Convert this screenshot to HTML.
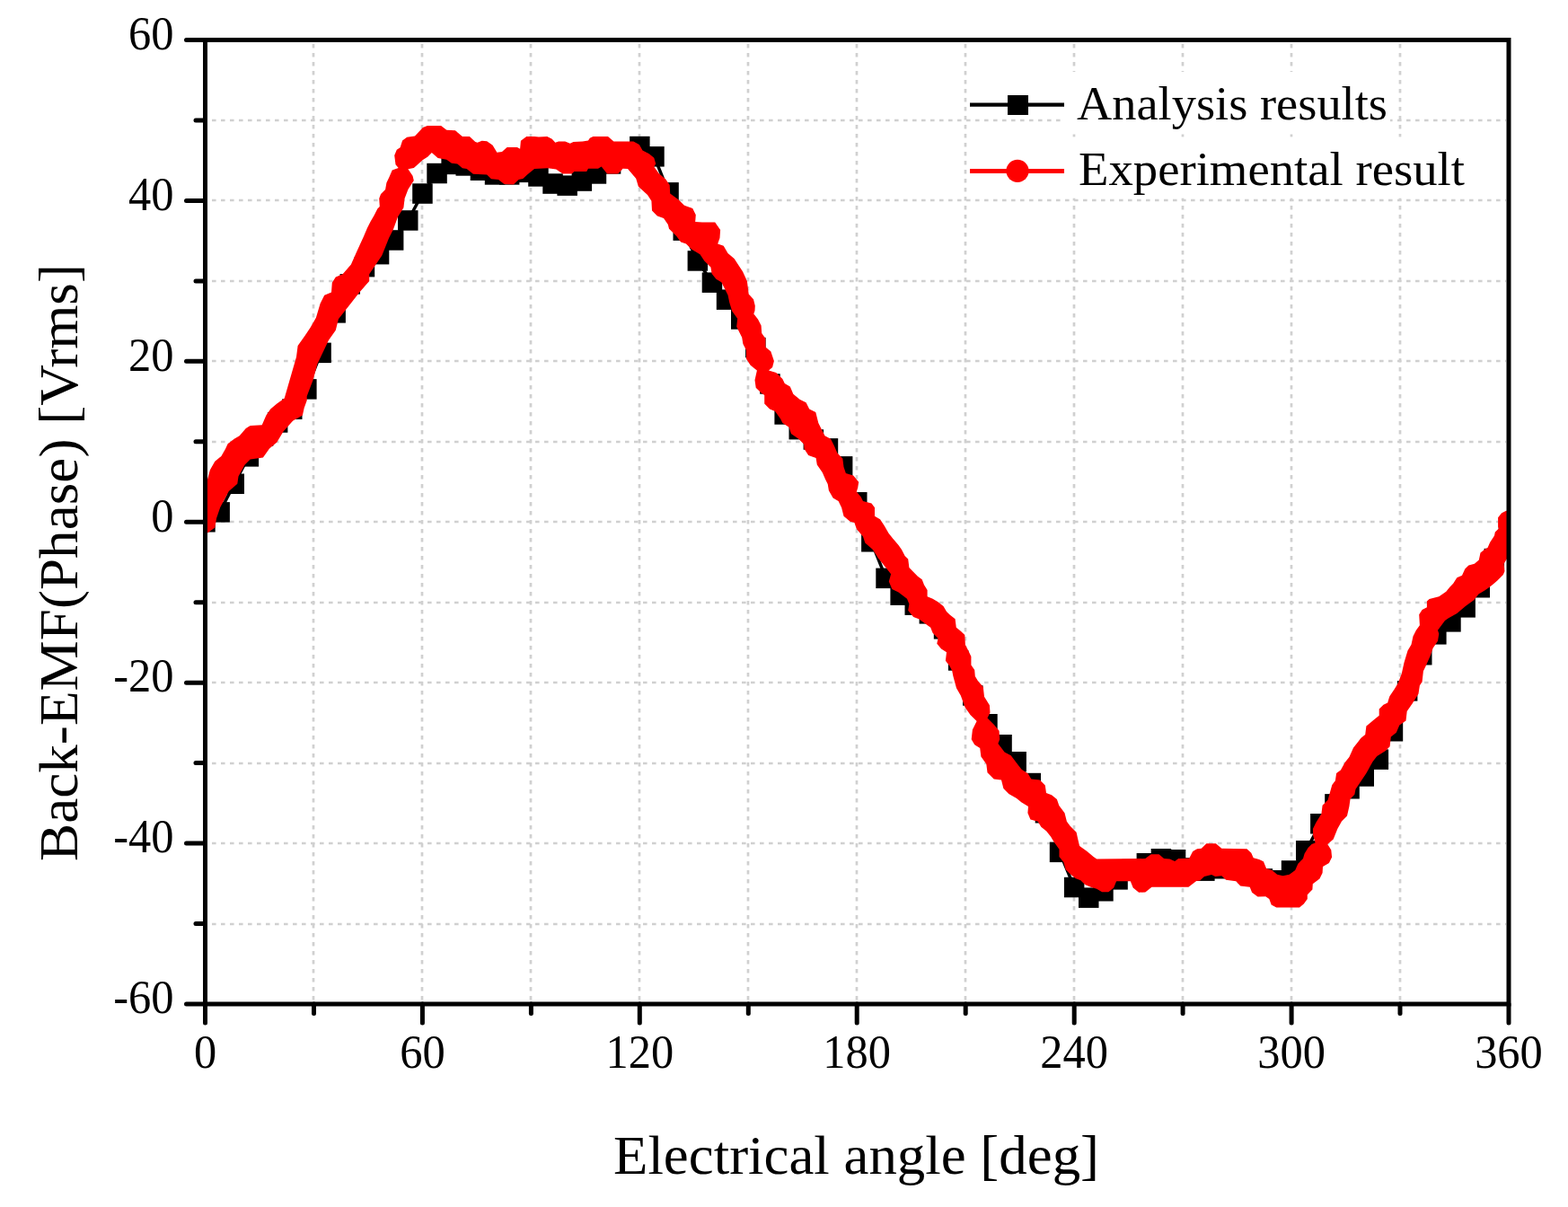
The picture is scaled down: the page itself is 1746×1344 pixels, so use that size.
<!DOCTYPE html>
<html><head><meta charset="utf-8"><title>Back-EMF chart</title><style>html,body{margin:0;padding:0;background:#fff;overflow:hidden}svg{display:block}</style></head><body>
<svg width="1746" height="1344" viewBox="0 0 1746 1344">
<rect x="0" y="0" width="1746" height="1344" fill="#fff"/>
<defs><clipPath id="pc"><rect x="228.5" y="44.5" width="1451.5" height="1073.5"/></clipPath></defs>
<g stroke="#d0d0d0" stroke-width="2.7" stroke-dasharray="4.6 5.4" fill="none"><line x1="349" y1="49" x2="349" y2="1115"/><line x1="470" y1="49" x2="470" y2="1115"/><line x1="591" y1="49" x2="591" y2="1115"/><line x1="712" y1="49" x2="712" y2="1115"/><line x1="833" y1="49" x2="833" y2="1115"/><line x1="954" y1="49" x2="954" y2="1115"/><line x1="1075" y1="49" x2="1075" y2="1115"/><line x1="1196" y1="49" x2="1196" y2="1115"/><line x1="1317" y1="49" x2="1317" y2="1115"/><line x1="1438" y1="49" x2="1438" y2="1115"/><line x1="1559" y1="49" x2="1559" y2="1115"/><line x1="236" y1="134" x2="1677" y2="134"/><line x1="236" y1="223" x2="1677" y2="223"/><line x1="236" y1="313" x2="1677" y2="313"/><line x1="236" y1="402" x2="1677" y2="402"/><line x1="236" y1="492" x2="1677" y2="492"/><line x1="236" y1="581" x2="1677" y2="581"/><line x1="236" y1="671" x2="1677" y2="671"/><line x1="236" y1="760" x2="1677" y2="760"/><line x1="236" y1="850" x2="1677" y2="850"/><line x1="236" y1="939" x2="1677" y2="939"/><line x1="236" y1="1029" x2="1677" y2="1029"/></g>
<g clip-path="url(#pc)"><polyline fill="none" stroke="#000" stroke-width="3.5" stroke-linejoin="round" points="228.5,581.3 244.6,570.4 260.8,538.8 276.9,508.3 293.0,485.5 309.1,470.5 325.3,455.6 341.4,433.3 357.5,392.8 373.6,348.3 389.8,316.3 405.9,297.2 422.0,283.2 438.2,267.5 454.3,245.5 470.4,215.6 486.5,193.0 502.7,182.9 518.8,184.5 534.9,189.8 551.1,194.5 567.2,194.5 583.3,191.8 599.4,196.5 615.6,204.6 631.7,206.7 647.8,201.6 664.0,193.4 680.1,182.4 696.2,172.0 712.3,163.1 728.5,174.3 744.6,214.3 760.7,256.6 776.8,290.5 793.0,314.6 809.1,333.6 825.2,355.5 841.4,387.0 857.5,427.5 873.6,461.5 889.7,478.2 905.9,489.5 922.0,499.4 938.1,519.4 954.2,559.2 970.4,603.3 986.5,643.9 1002.6,662.6 1018.8,673.6 1034.9,683.4 1051.0,700.4 1067.1,735.5 1083.3,774.5 1099.4,806.2 1115.5,829.2 1131.7,848.2 1147.8,872.0 1163.9,905.2 1180.0,948.9 1196.2,988.0 1212.3,999.6 1228.4,992.3 1244.5,979.4 1260.7,968.0 1276.8,961.2 1292.9,956.2 1309.1,957.3 1325.2,966.5 1341.3,969.6 1357.4,967.2 1373.6,966.0 1389.7,972.0 1405.8,978.5 1422.0,980.2 1438.1,969.5 1454.2,947.3 1470.3,917.2 1486.5,895.4 1502.6,878.3 1518.7,864.5 1534.8,845.6 1551.0,814.3 1567.1,769.4 1583.2,729.2 1599.4,706.4 1615.5,692.4 1631.6,676.4 1647.7,654.2 1663.9,622.0 1680.0,598.0"/><g fill="#000"><rect x="217.2" y="570.0" width="22.5" height="22.5"/><rect x="233.4" y="559.1" width="22.5" height="22.5"/><rect x="249.5" y="527.5" width="22.5" height="22.5"/><rect x="265.6" y="497.1" width="22.5" height="22.5"/><rect x="281.8" y="474.2" width="22.5" height="22.5"/><rect x="297.9" y="459.2" width="22.5" height="22.5"/><rect x="314.0" y="444.4" width="22.5" height="22.5"/><rect x="330.1" y="422.1" width="22.5" height="22.5"/><rect x="346.3" y="381.6" width="22.5" height="22.5"/><rect x="362.4" y="337.1" width="22.5" height="22.5"/><rect x="378.5" y="305.1" width="22.5" height="22.5"/><rect x="394.7" y="285.9" width="22.5" height="22.5"/><rect x="410.8" y="271.9" width="22.5" height="22.5"/><rect x="426.9" y="256.2" width="22.5" height="22.5"/><rect x="443.0" y="234.2" width="22.5" height="22.5"/><rect x="459.2" y="204.3" width="22.5" height="22.5"/><rect x="475.3" y="181.8" width="22.5" height="22.5"/><rect x="491.4" y="171.7" width="22.5" height="22.5"/><rect x="507.5" y="173.2" width="22.5" height="22.5"/><rect x="523.7" y="178.5" width="22.5" height="22.5"/><rect x="539.8" y="183.2" width="22.5" height="22.5"/><rect x="555.9" y="183.2" width="22.5" height="22.5"/><rect x="572.1" y="180.6" width="22.5" height="22.5"/><rect x="588.2" y="185.2" width="22.5" height="22.5"/><rect x="604.3" y="193.3" width="22.5" height="22.5"/><rect x="620.4" y="195.4" width="22.5" height="22.5"/><rect x="636.6" y="190.3" width="22.5" height="22.5"/><rect x="652.7" y="182.2" width="22.5" height="22.5"/><rect x="668.8" y="171.2" width="22.5" height="22.5"/><rect x="685.0" y="160.8" width="22.5" height="22.5"/><rect x="701.1" y="151.8" width="22.5" height="22.5"/><rect x="717.2" y="163.1" width="22.5" height="22.5"/><rect x="733.3" y="203.1" width="22.5" height="22.5"/><rect x="749.5" y="245.4" width="22.5" height="22.5"/><rect x="765.6" y="279.2" width="22.5" height="22.5"/><rect x="781.7" y="303.4" width="22.5" height="22.5"/><rect x="797.8" y="322.4" width="22.5" height="22.5"/><rect x="814.0" y="344.2" width="22.5" height="22.5"/><rect x="830.1" y="375.8" width="22.5" height="22.5"/><rect x="846.2" y="416.2" width="22.5" height="22.5"/><rect x="862.4" y="450.2" width="22.5" height="22.5"/><rect x="878.5" y="466.9" width="22.5" height="22.5"/><rect x="894.6" y="478.2" width="22.5" height="22.5"/><rect x="910.7" y="488.1" width="22.5" height="22.5"/><rect x="926.9" y="508.1" width="22.5" height="22.5"/><rect x="943.0" y="548.0" width="22.5" height="22.5"/><rect x="959.1" y="592.0" width="22.5" height="22.5"/><rect x="975.3" y="632.6" width="22.5" height="22.5"/><rect x="991.4" y="651.4" width="22.5" height="22.5"/><rect x="1007.5" y="662.4" width="22.5" height="22.5"/><rect x="1023.6" y="672.1" width="22.5" height="22.5"/><rect x="1039.8" y="689.1" width="22.5" height="22.5"/><rect x="1055.9" y="724.2" width="22.5" height="22.5"/><rect x="1072.0" y="763.2" width="22.5" height="22.5"/><rect x="1088.2" y="795.0" width="22.5" height="22.5"/><rect x="1104.3" y="818.0" width="22.5" height="22.5"/><rect x="1120.4" y="837.0" width="22.5" height="22.5"/><rect x="1136.5" y="860.8" width="22.5" height="22.5"/><rect x="1152.7" y="894.0" width="22.5" height="22.5"/><rect x="1168.8" y="937.6" width="22.5" height="22.5"/><rect x="1184.9" y="976.8" width="22.5" height="22.5"/><rect x="1201.0" y="988.4" width="22.5" height="22.5"/><rect x="1217.2" y="981.0" width="22.5" height="22.5"/><rect x="1233.3" y="968.1" width="22.5" height="22.5"/><rect x="1249.4" y="956.8" width="22.5" height="22.5"/><rect x="1265.6" y="950.0" width="22.5" height="22.5"/><rect x="1281.7" y="945.0" width="22.5" height="22.5"/><rect x="1297.8" y="946.0" width="22.5" height="22.5"/><rect x="1313.9" y="955.2" width="22.5" height="22.5"/><rect x="1330.1" y="958.4" width="22.5" height="22.5"/><rect x="1346.2" y="956.0" width="22.5" height="22.5"/><rect x="1362.3" y="954.8" width="22.5" height="22.5"/><rect x="1378.4" y="960.8" width="22.5" height="22.5"/><rect x="1394.6" y="967.2" width="22.5" height="22.5"/><rect x="1410.7" y="969.0" width="22.5" height="22.5"/><rect x="1426.8" y="958.2" width="22.5" height="22.5"/><rect x="1443.0" y="936.0" width="22.5" height="22.5"/><rect x="1459.1" y="906.0" width="22.5" height="22.5"/><rect x="1475.2" y="884.1" width="22.5" height="22.5"/><rect x="1491.3" y="867.0" width="22.5" height="22.5"/><rect x="1507.5" y="853.2" width="22.5" height="22.5"/><rect x="1523.6" y="834.4" width="22.5" height="22.5"/><rect x="1539.7" y="803.0" width="22.5" height="22.5"/><rect x="1555.9" y="758.1" width="22.5" height="22.5"/><rect x="1572.0" y="718.0" width="22.5" height="22.5"/><rect x="1588.1" y="695.1" width="22.5" height="22.5"/><rect x="1604.2" y="681.1" width="22.5" height="22.5"/><rect x="1620.4" y="665.1" width="22.5" height="22.5"/><rect x="1636.5" y="643.0" width="22.5" height="22.5"/><rect x="1652.6" y="610.8" width="22.5" height="22.5"/><rect x="1668.7" y="586.8" width="22.5" height="22.5"/></g><polygon fill="#ff0000" points="228.0,544.8 233.9,523.3 239.3,513.8 246.4,507.9 251.2,499.5 253.6,494.2 260.7,488.8 266.7,485.2 273.8,476.9 278.6,473.9 291.7,473.3 296.4,462.6 301.2,455.5 308.3,449.5 316.7,443.6 330.0,397.5 331.6,385.0 339.4,374.0 345.6,364.7 351.9,353.8 356.6,338.0 361.2,328.8 369.0,325.6 369.8,314.7 373.8,308.4 381.6,305.3 390.9,294.4 397.2,280.3 405.1,262.9 408.9,254.0 412.7,246.5 416.5,240.1 420.3,232.5 422.8,230.0 422.2,221.1 424.1,216.1 429.1,211.0 430.4,203.4 433.5,197.1 436.7,189.5 443.7,187.0 440.5,183.2 439.2,173.0 441.8,166.7 445.6,164.2 448.1,156.6 453.2,152.8 462.0,151.5 470.9,142.0 475.9,140.1 491.1,140.1 497.3,144.8 506.9,145.2 514.9,152.0 522.9,152.0 529.3,158.0 531.7,158.8 536.6,156.8 542.2,157.2 548.6,161.7 551.0,165.7 553.4,169.7 559.0,168.9 564.6,164.1 575.9,164.1 579.1,165.7 579.9,156.8 586.3,152.0 595.1,152.0 599.9,152.4 609.2,151.9 614.7,154.7 618.3,158.8 622.0,157.4 629.3,157.4 634.8,159.7 638.5,157.9 648.6,157.4 655.0,156.5 656.8,153.7 660.5,151.9 677.0,151.9 683.4,157.4 705.4,157.4 711.8,161.1 715.5,167.5 722.8,171.2 728.3,175.7 730.2,182.2 728.3,185.8 733.8,193.2 741.2,199.6 745.7,206.0 746.2,215.5 755.7,222.6 761.7,228.6 771.2,232.1 774.8,239.3 774.2,247.0 781.9,247.6 796.2,247.6 802.1,256.0 801.5,264.9 799.2,271.4 805.7,273.8 810.5,282.1 817.6,288.1 827.1,302.4 831.9,313.1 833.7,327.4 839.0,333.3 840.8,340.5 840.5,346.0 839.3,349.5 844.0,355.5 847.6,362.6 848.2,371.0 852.4,376.9 852.4,386.4 858.3,391.2 861.9,401.9 860.1,409.0 856.0,412.6 864.3,415.0 871.4,422.1 873.8,426.9 879.8,430.5 883.3,438.8 890.5,444.8 897.6,448.3 901.2,455.5 908.3,459.0 911.3,471.0 914.3,476.9 918.5,485.2 925.0,488.8 928.8,496.2 932.4,504.5 938.3,510.5 939.5,520.0 941.9,527.1 950.2,529.5 956.2,536.7 955.0,543.8 953.8,547.4 958.6,553.3 961.0,558.1 970.5,560.5 974.0,565.2 974.0,574.8 980.0,578.3 984.8,585.5 989.5,593.8 994.3,599.8 1000.5,607.1 1004.0,611.9 1007.6,619.0 1011.2,622.6 1012.4,632.1 1016.0,635.7 1021.9,641.7 1026.7,645.2 1029.0,651.2 1032.6,657.1 1032.6,664.3 1038.6,666.7 1044.5,670.2 1050.5,675.0 1054.0,681.0 1057.6,684.5 1063.6,689.3 1064.8,698.8 1069.5,702.4 1074.3,707.1 1074.9,717.9 1077.9,723.8 1081.4,731.0 1081.4,740.5 1085.2,746.0 1085.8,753.1 1088.8,757.9 1094.8,765.0 1096.0,775.7 1101.9,785.2 1102.5,793.6 1099.5,799.5 1106.7,806.7 1112.6,813.8 1113.2,823.3 1111.4,828.1 1118.6,837.6 1125.7,841.2 1132.9,850.7 1137.6,856.7 1144.8,861.4 1148.3,867.4 1157.9,868.6 1163.8,874.5 1165.0,882.9 1171.0,885.2 1176.9,890.0 1179.3,897.1 1185.5,905.2 1187.9,914.8 1191.4,919.5 1198.6,926.7 1200.4,935.0 1202.1,942.1 1210.5,948.1 1217.6,954.0 1221.2,956.4 1275.3,956.1 1281.7,951.3 1290.5,951.3 1296.1,956.1 1302.5,956.5 1308.2,958.9 1312.2,956.1 1324.2,955.7 1328.2,948.0 1333.0,945.2 1337.8,944.8 1343.4,939.2 1353.9,939.2 1360.3,944.8 1388.4,945.3 1393.3,949.7 1395.7,955.3 1402.1,956.9 1406.9,959.3 1410.1,966.9 1416.5,968.9 1422.1,973.7 1428.5,975.3 1435.8,973.7 1442.2,968.9 1445.4,961.7 1451.0,956.1 1452.6,950.5 1456.6,944.1 1460.6,940.0 1464.6,938.4 1462.2,930.4 1461.9,922.9 1465.5,915.7 1471.4,906.2 1472.6,896.7 1478.6,890.7 1483.3,874.0 1486.9,869.3 1488.1,861.0 1492.9,857.4 1497.6,849.0 1502.4,843.1 1507.1,832.4 1511.9,826.4 1515.5,821.7 1520.2,818.1 1521.4,808.6 1528.6,802.6 1535.7,796.7 1535.7,789.5 1540.5,784.8 1545.2,782.4 1546.1,779.3 1547.4,775.3 1552.8,767.3 1556.8,760.6 1560.8,749.9 1563.5,737.8 1567.5,724.4 1571.5,717.7 1573.5,708.4 1576.9,701.7 1580.9,696.3 1580.2,684.3 1583.6,678.9 1588.9,676.2 1588.9,669.5 1591.6,666.9 1602.3,664.2 1610.3,658.8 1614.1,653.9 1618.2,649.8 1622.3,643.3 1628.0,640.8 1631.3,633.5 1635.4,629.4 1641.9,627.7 1646.8,623.6 1648.5,615.5 1652.6,612.2 1656.6,609.7 1659.1,604.0 1664.0,596.6 1664.8,592.6 1668.9,588.5 1668.1,586.8 1668.1,576.2 1672.2,571.3 1677.1,568.8 1684.0,568.8 1684.0,614.0 1677.1,623.6 1674.6,627.7 1675.5,635.9 1673.8,640.0 1667.3,646.6 1662.4,650.7 1658.3,653.9 1653.2,657.5 1646.5,661.5 1641.1,668.2 1631.8,674.9 1622.4,682.9 1613.0,688.3 1609.0,691.0 1601.0,701.7 1602.3,705.7 1601.0,713.7 1595.6,721.8 1592.9,729.8 1587.6,741.8 1584.9,747.2 1583.6,759.2 1580.9,763.3 1579.5,772.6 1572.8,783.3 1566.7,791.9 1565.5,802.6 1558.3,807.4 1554.8,815.7 1548.8,820.5 1547.6,831.2 1542.9,836.0 1533.3,841.9 1528.6,847.9 1521.4,861.0 1516.7,868.1 1509.5,878.8 1508.3,884.8 1503.6,889.5 1502.4,897.9 1500.0,908.6 1494.0,914.5 1489.3,922.9 1484.7,934.4 1478.3,940.0 1482.3,946.5 1483.1,954.5 1479.9,960.9 1473.0,964.9 1472.6,972.1 1469.4,978.5 1461.8,984.2 1461.4,990.6 1455.8,996.2 1455.8,1001.0 1451.8,1006.6 1447.0,1010.6 1421.3,1010.6 1415.7,1007.4 1413.3,1001.0 1409.3,998.2 1400.5,998.6 1394.1,993.8 1391.7,987.8 1381.2,986.6 1376.3,981.3 1365.1,979.7 1360.3,975.3 1353.1,976.1 1349.1,974.1 1341.0,976.1 1336.2,980.5 1332.2,980.9 1323.4,987.7 1282.5,987.7 1275.3,993.4 1268.1,993.8 1261.7,988.5 1258.8,981.3 1243.2,981.3 1242.6,982.6 1240.2,988.6 1234.3,993.3 1227.1,993.3 1221.2,989.8 1215.2,988.0 1208.1,985.0 1203.3,980.2 1197.4,977.9 1191.4,973.1 1186.7,968.3 1184.3,960.0 1179.5,954.0 1179.5,945.7 1173.6,937.4 1170.0,931.4 1165.2,925.5 1159.3,920.7 1155.7,914.8 1147.4,912.4 1144.4,905.2 1145.0,898.1 1137.6,893.6 1131.7,888.8 1123.3,884.0 1117.4,878.1 1115.0,868.6 1106.7,867.4 1099.5,860.2 1098.3,850.7 1092.4,842.4 1091.2,832.9 1085.2,829.3 1081.7,823.3 1082.9,812.6 1087.6,803.1 1080.5,796.0 1074.5,787.6 1069.8,774.5 1065.0,766.2 1061.4,753.1 1060.2,747.1 1057.6,741.7 1052.9,735.7 1054.0,726.2 1048.1,722.6 1043.3,716.7 1044.5,710.7 1038.6,704.8 1036.2,698.8 1031.4,695.2 1023.1,689.3 1017.1,686.9 1011.2,679.8 1012.4,672.6 1010.0,666.7 1000.5,659.5 993.3,656.0 989.8,647.6 992.1,639.3 987.4,633.3 977.9,621.4 971.9,611.9 963.3,604.5 961.0,597.4 953.8,589.0 951.4,581.9 946.7,580.7 939.5,574.8 937.1,565.2 933.6,558.1 927.6,554.5 922.9,546.2 921.7,539.0 919.3,534.3 915.7,526.0 909.8,517.6 908.6,509.9 900.2,506.9 895.5,499.8 895.2,494.8 889.3,488.8 881.0,482.9 878.6,475.7 871.4,471.0 869.0,466.2 863.1,457.9 857.1,455.5 851.2,449.5 851.2,440.0 847.6,437.6 841.7,431.7 840.5,423.3 842.9,412.6 835.7,406.7 831.0,399.5 831.0,390.0 827.4,382.9 826.2,375.7 820.2,363.8 821.2,354.8 815.2,346.4 812.3,336.9 810.5,328.6 803.3,314.3 797.4,310.7 792.6,304.8 791.4,297.6 784.3,290.5 779.5,283.3 770.0,277.4 764.0,271.4 758.1,269.6 753.3,263.1 745.0,254.8 743.8,250.0 739.0,242.9 731.9,240.5 726.0,234.5 725.4,223.8 721.0,217.0 710.9,207.8 708.2,198.7 699.0,188.1 693.5,187.7 691.7,190.0 688.0,193.6 676.1,193.6 669.7,185.4 666.0,187.7 655.0,187.7 653.2,190.9 639.4,190.9 636.7,193.6 626.6,193.6 619.2,188.6 610.1,187.2 595.1,188.1 587.1,194.5 582.3,198.9 577.5,200.1 571.8,205.4 561.4,205.0 555.0,200.1 547.0,199.3 542.2,194.5 526.9,193.7 519.7,188.1 514.9,187.3 509.3,182.5 502.9,181.7 497.3,177.7 487.6,176.1 480.8,170.1 476.4,174.5 470.9,178.1 460.8,187.0 454.4,188.2 459.5,195.8 460.8,200.9 454.4,211.0 450.6,221.1 449.4,231.3 443.0,241.4 438.0,255.3 433.1,265.0 425.3,284.4 411.2,305.3 411.2,313.1 400.3,325.6 391.7,336.6 376.9,355.3 373.8,367.8 366.0,378.8 353.4,405.3 348.8,422.5 341.7,441.2 341.7,446.0 338.7,454.3 336.9,462.6 326.2,468.6 315.5,480.5 308.3,492.4 300.0,499.5 292.9,509.6 278.6,511.4 272.6,517.4 265.5,530.5 264.3,538.8 254.8,547.1 245.2,565.0 241.1,576.9 239.3,587.6 231.0,593.6 228.0,593.6"/></g>
<g stroke="#000" stroke-width="5" stroke-linecap="round"><line x1="228.5" y1="44.5" x2="207.5" y2="44.5"/><line x1="228.5" y1="134.0" x2="218" y2="134.0"/><line x1="228.5" y1="223.4" x2="207.5" y2="223.4"/><line x1="228.5" y1="312.9" x2="218" y2="312.9"/><line x1="228.5" y1="402.3" x2="207.5" y2="402.3"/><line x1="228.5" y1="491.8" x2="218" y2="491.8"/><line x1="228.5" y1="581.2" x2="207.5" y2="581.2"/><line x1="228.5" y1="670.7" x2="218" y2="670.7"/><line x1="228.5" y1="760.2" x2="207.5" y2="760.2"/><line x1="228.5" y1="849.6" x2="218" y2="849.6"/><line x1="228.5" y1="939.1" x2="207.5" y2="939.1"/><line x1="228.5" y1="1028.5" x2="218" y2="1028.5"/><line x1="228.5" y1="1118.0" x2="207.5" y2="1118.0"/><line x1="228.5" y1="1118.0" x2="228.5" y2="1139"/><line x1="349.5" y1="1118.0" x2="349.5" y2="1128.5"/><line x1="470.4" y1="1118.0" x2="470.4" y2="1139"/><line x1="591.4" y1="1118.0" x2="591.4" y2="1128.5"/><line x1="712.3" y1="1118.0" x2="712.3" y2="1139"/><line x1="833.3" y1="1118.0" x2="833.3" y2="1128.5"/><line x1="954.2" y1="1118.0" x2="954.2" y2="1139"/><line x1="1075.2" y1="1118.0" x2="1075.2" y2="1128.5"/><line x1="1196.2" y1="1118.0" x2="1196.2" y2="1139"/><line x1="1317.1" y1="1118.0" x2="1317.1" y2="1128.5"/><line x1="1438.1" y1="1118.0" x2="1438.1" y2="1139"/><line x1="1559.0" y1="1118.0" x2="1559.0" y2="1128.5"/><line x1="1680.0" y1="1118.0" x2="1680.0" y2="1139"/></g>
<rect x="228.5" y="44.5" width="1451.5" height="1073.5" fill="none" stroke="#000" stroke-width="5"/>
<g font-family="'Liberation Serif', 'DejaVu Serif', serif" font-size="52.5" fill="#000"><text x="193.5" y="1128.2" text-anchor="end" textLength="67.3" lengthAdjust="spacingAndGlyphs">-60</text><text x="193.5" y="949.3" text-anchor="end" textLength="67.3" lengthAdjust="spacingAndGlyphs">-40</text><text x="193.5" y="770.4" text-anchor="end" textLength="67.3" lengthAdjust="spacingAndGlyphs">-20</text><text x="193.5" y="591.5" text-anchor="end" textLength="25.2" lengthAdjust="spacingAndGlyphs">0</text><text x="193.5" y="412.5" text-anchor="end" textLength="50.5" lengthAdjust="spacingAndGlyphs">20</text><text x="193.5" y="233.6" text-anchor="end" textLength="50.5" lengthAdjust="spacingAndGlyphs">40</text><text x="193.5" y="54.7" text-anchor="end" textLength="50.5" lengthAdjust="spacingAndGlyphs">60</text><text x="228.5" y="1189.2" text-anchor="middle" textLength="25.2" lengthAdjust="spacingAndGlyphs">0</text><text x="470.4" y="1189.2" text-anchor="middle" textLength="50.5" lengthAdjust="spacingAndGlyphs">60</text><text x="712.3" y="1189.2" text-anchor="middle" textLength="75.7" lengthAdjust="spacingAndGlyphs">120</text><text x="954.2" y="1189.2" text-anchor="middle" textLength="75.7" lengthAdjust="spacingAndGlyphs">180</text><text x="1196.2" y="1189.2" text-anchor="middle" textLength="75.7" lengthAdjust="spacingAndGlyphs">240</text><text x="1438.1" y="1189.2" text-anchor="middle" textLength="75.7" lengthAdjust="spacingAndGlyphs">300</text><text x="1680.0" y="1189.2" text-anchor="middle" textLength="75.7" lengthAdjust="spacingAndGlyphs">360</text></g>
<rect x="1185" y="80" width="363" height="69.5" fill="#fff"/><rect x="1185" y="152.4" width="450" height="68.3" fill="#fff"/><line x1="1080" y1="116.6" x2="1185" y2="116.6" stroke="#000" stroke-width="4.4"/><rect x="1122" y="106" width="23" height="22" fill="#000"/><line x1="1080" y1="190.5" x2="1185" y2="190.5" stroke="#ff0000" stroke-width="5.2"/><circle cx="1133" cy="190.3" r="12.6" fill="#ff0000"/><text x="1199" y="133" font-family="'Liberation Serif', 'DejaVu Serif', serif" font-size="52" textLength="346" lengthAdjust="spacingAndGlyphs">Analysis results</text><text x="1201" y="205.9" font-family="'Liberation Serif', 'DejaVu Serif', serif" font-size="52" textLength="430" lengthAdjust="spacingAndGlyphs">Experimental result</text>
<text x="683" y="1307" font-family="'Liberation Serif', 'DejaVu Serif', serif" font-size="62" textLength="541" lengthAdjust="spacingAndGlyphs">Electrical angle [deg]</text>
<text transform="translate(86,959) rotate(-90)" x="0" y="0" font-family="'Liberation Serif', 'DejaVu Serif', serif" font-size="62" textLength="665" lengthAdjust="spacingAndGlyphs">Back-EMF(Phase) [Vrms]</text>
</svg>
</body></html>
